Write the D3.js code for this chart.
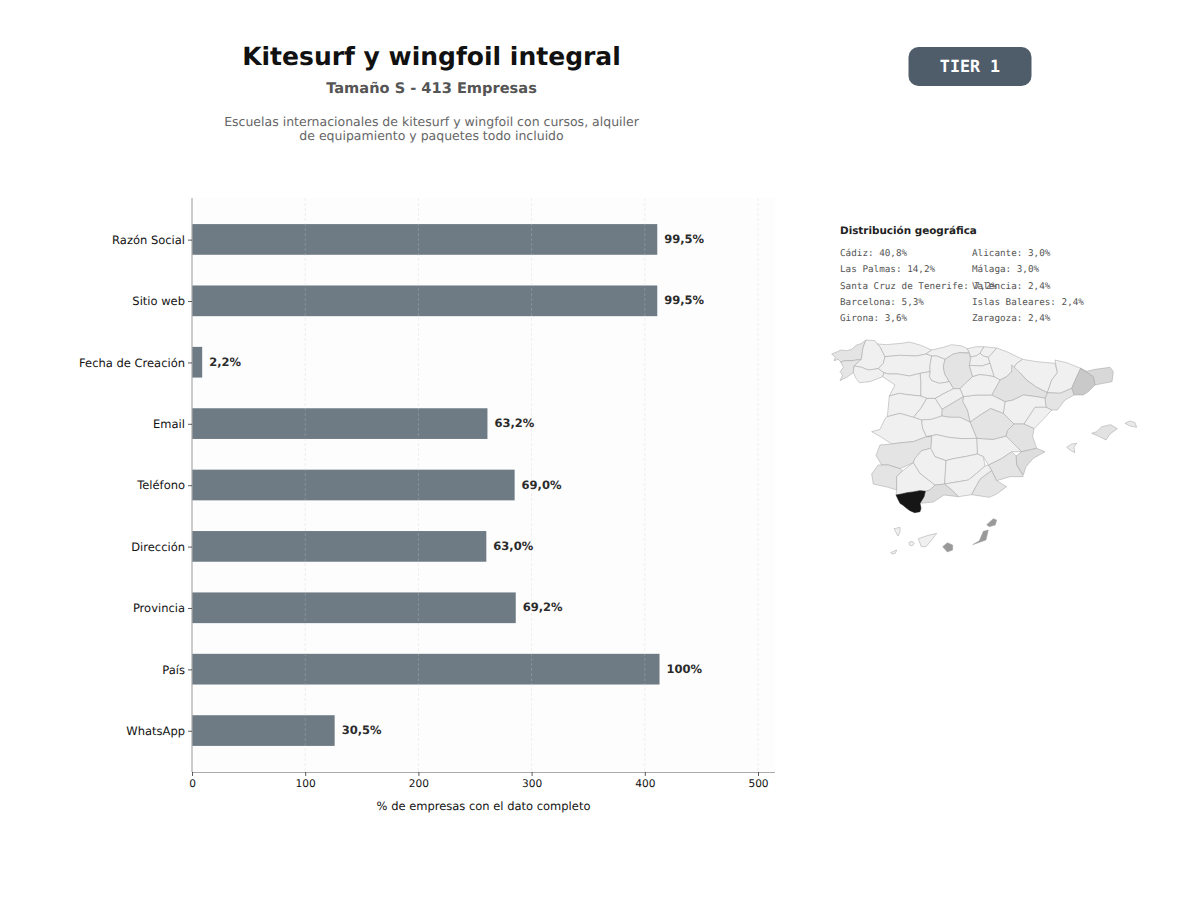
<!DOCTYPE html>
<html><head><meta charset="utf-8">
<script src="https://cdnjs.cloudflare.com/ajax/libs/d3/7.8.5/d3.min.js"></script>
<style>html,body{margin:0;padding:0;background:#fff}svg{display:block;text-rendering:geometricPrecision}text{font-family:"DejaVu Sans"}.mono{font-family:"DejaVu Sans Mono"}</style>
</head><body><div id="c"></div>
<script>
const fieldNames=["Razón Social","Sitio web","Fecha de Creación","Email","Teléfono","Dirección","Provincia","País","WhatsApp"];
const companyCounts=[411,411,9,261,285,260,286,413,126];
const percentLabels=["99,5%","99,5%","2,2%","63,2%","69,0%","63,0%","69,2%","100%","30,5%"];
const xTicks=[0,100,200,300,400,500];
const geoLeft=["Cádiz: 40,8%","Las Palmas: 14,2%","Santa Cruz de Tenerife: 7,2%","Barcelona: 5,3%","Girona: 3,6%"];
const geoRight=["Alicante: 3,0%","Málaga: 3,0%","Valencia: 2,4%","Islas Baleares: 2,4%","Zaragoza: 2,4%"];
const shareStops=[0,2.4,5.3,14.2,40.8];
const greyStops=["#f4f4f4","#e2e2e2","#c9c9c9","#999999","#161616"];
// approximate province outlines, survey units of the map sheet
const provinces=[
["A Coruña",2.2,[[35,72],[50,66],[62,60],[80,62],[95,58],[108,46],[125,40],[138,30],[132,45],[128,58],[126,75],[124,88],[95,92],[75,92],[62,96],[55,88],[42,92],[46,82]]],
["Pontevedra",2.0,[[62,96],[75,92],[95,92],[124,88],[102,108],[100,128],[80,142],[60,152],[68,135],[60,125],[70,112]]],
["Lugo",0.5,[[138,30],[165,32],[172,42],[180,50],[195,80],[190,100],[175,116],[145,120],[125,112],[102,108],[124,88],[126,75],[128,58],[132,45]]],
["Ourense",0.5,[[102,108],[125,112],[145,120],[175,116],[192,128],[188,140],[150,155],[118,158],[108,145],[100,128]]],
["Asturias",0.5,[[172,42],[200,44],[220,42],[245,40],[268,36],[300,45],[335,60],[318,72],[290,78],[240,76],[195,80],[180,50]]],
["Cantabria",0.5,[[335,60],[370,52],[395,44],[425,48],[442,56],[448,68],[420,68],[400,72],[375,88],[350,78],[335,78],[318,72]]],
["León",0.5,[[195,80],[240,76],[290,78],[318,72],[335,78],[330,105],[330,125],[300,130],[268,138],[235,132],[205,132],[192,128],[175,116],[190,100]]],
["Palencia",0.5,[[335,78],[350,78],[375,88],[370,110],[374,132],[388,155],[358,160],[335,152],[328,140],[330,125],[330,105]]],
["Burgos",2.1,[[375,88],[400,72],[420,68],[448,70],[452,88],[448,106],[458,140],[436,160],[420,176],[400,176],[388,155],[374,132],[370,110]]],
["Bizkaia",0.5,[[442,56],[470,50],[492,50],[480,70],[468,78],[452,80],[448,68]]],
["Gipuzkoa",0.5,[[492,50],[530,54],[515,72],[505,82],[490,78],[480,70]]],
["Álava",0.5,[[452,80],[468,78],[480,70],[490,78],[505,82],[510,100],[485,108],[448,106],[452,88]]],
["Navarra",0.5,[[530,54],[560,65],[608,88],[590,100],[575,125],[560,140],[540,150],[522,140],[510,100],[505,82],[515,72]]],
["La Rioja",0.5,[[448,106],[485,108],[510,100],[522,140],[500,136],[478,134],[458,140]]],
["Huesca",0.5,[[608,88],[650,95],[705,100],[712,128],[695,150],[682,188],[650,172],[620,150],[600,128],[575,125],[590,100]]],
["Lleida",0.5,[[705,90],[740,98],[782,115],[768,145],[755,175],[720,190],[682,188],[695,150],[712,128]]],
["Girona",3.6,[[782,115],[800,124],[825,118],[870,112],[880,125],[876,155],[850,160],[825,165],[820,140]]],
["Barcelona",5.3,[[782,115],[820,140],[825,165],[805,185],[790,195],[762,195],[755,175],[768,145]]],
["Tarragona",2.2,[[682,188],[720,190],[755,175],[762,195],[735,210],[712,240],[695,240],[678,232],[675,205]]],
["Zaragoza",2.4,[[575,105],[600,128],[620,150],[650,172],[682,188],[675,205],[650,200],[610,195],[580,210],[555,215],[515,195],[540,150],[560,140],[575,125]]],
["Teruel",0.5,[[555,215],[580,210],[610,195],[650,200],[675,205],[678,232],[645,232],[632,252],[612,282],[582,282],[550,250]]],
["Castellón",0.5,[[645,232],[678,232],[695,240],[670,268],[642,296],[612,282],[632,252]]],
["Valencia",2.4,[[582,282],[612,282],[642,296],[638,320],[650,355],[605,365],[580,340],[558,318],[562,302]]],
["Alicante",3.0,[[605,365],[650,355],[675,365],[640,385],[618,410],[610,435],[590,405],[588,378]]],
["Murcia",2.2,[[505,405],[545,385],[575,365],[588,378],[590,405],[610,440],[570,440],[530,452],[515,422]]],
["Albacete",0.5,[[470,325],[520,328],[558,318],[580,340],[605,365],[575,365],[545,385],[505,405],[490,380],[472,372]]],
["Cuenca",2.1,[[450,276],[480,255],[512,235],[550,250],[582,282],[562,302],[558,318],[520,328],[470,325]]],
["Guadalajara",0.5,[[430,200],[470,195],[515,195],[555,215],[550,250],[512,235],[480,255],[450,276],[442,240],[428,215]]],
["Soria",0.5,[[458,140],[478,134],[500,136],[522,140],[540,150],[515,195],[470,195],[430,200],[420,176],[436,160]]],
["Segovia",0.5,[[345,205],[372,190],[400,176],[420,176],[430,200],[405,215],[366,238]]],
["Madrid",2.1,[[366,238],[405,215],[430,200],[428,215],[442,240],[450,276],[420,262],[390,262],[365,258]]],
["Ávila",0.5,[[280,262],[302,235],[320,205],[345,205],[366,238],[365,258],[335,268],[305,270]]],
["Valladolid",0.5,[[300,130],[330,125],[328,140],[335,152],[358,160],[388,155],[400,176],[372,190],[345,205],[320,205],[302,198],[302,150]]],
["Zamora",0.5,[[192,128],[205,132],[235,132],[268,138],[300,130],[302,150],[302,198],[262,194],[238,190],[208,198],[225,165],[188,140]]],
["Salamanca",0.5,[[208,198],[238,190],[262,194],[302,198],[320,205],[302,235],[280,262],[240,250],[202,260]]],
["Cáceres",0.5,[[155,305],[180,298],[195,266],[202,260],[240,250],[280,262],[305,270],[308,295],[320,320],[280,335],[245,338],[215,342],[185,322]]],
["Toledo",0.5,[[305,270],[335,268],[365,258],[390,262],[420,262],[450,276],[470,325],[425,326],[385,322],[350,314],[320,320],[308,295]]],
["Ciudad Real",0.5,[[320,320],[350,314],[385,322],[425,326],[470,325],[472,372],[435,380],[400,386],[378,392],[345,380],[332,355],[335,320]]],
["Badajoz",2.2,[[180,345],[215,342],[245,338],[280,335],[320,320],[335,320],[332,355],[305,362],[285,385],[280,398],[240,416],[205,405],[185,405],[168,376]]],
["Huelva",2.2,[[155,432],[175,405],[205,405],[240,416],[248,422],[230,440],[230,480],[205,472],[160,462]]],
["Sevilla",0.5,[[248,422],[280,398],[300,430],[345,465],[330,480],[316,484],[300,482],[262,488],[228,495],[230,480],[230,440]]],
["Córdoba",0.5,[[285,385],[305,362],[332,355],[345,380],[378,392],[374,462],[345,465],[300,430],[280,398]]],
["Jaén",0.5,[[378,392],[400,386],[435,380],[472,372],[490,380],[495,408],[470,430],[445,450],[374,462]]],
["Granada",0.5,[[374,462],[445,450],[470,430],[495,408],[505,405],[515,422],[490,440],[480,448],[455,494],[415,500],[395,480]]],
["Almería",2.2,[[455,494],[480,448],[490,440],[515,422],[530,452],[560,470],[530,492],[508,502]]],
["Málaga",3.0,[[300,520],[312,500],[316,484],[330,480],[345,465],[374,462],[395,480],[415,500],[372,495],[340,516]]],
["Cádiz",40.8,[[228,495],[245,492],[262,488],[280,486],[300,482],[316,484],[312,500],[300,520],[303,535],[300,545],[284,548],[270,542],[260,535],[248,525],[240,520],[234,508]]],
["Mallorca",2.4,[[815,310],[830,305],[845,290],[872,284],[892,296],[870,312],[858,330],[835,318]]],
["Menorca",1.4,[[915,280],[930,273],[945,278],[950,292],[930,288]]],
["Ibiza",1.2,[[740,352],[755,342],[770,340],[762,352],[764,368],[750,360]]],
["Gran Canaria",14.2,[[368,650],[382,638],[398,645],[398,660],[382,666]]],
["Fuerteventura",14.2,[[458,644],[478,632],[490,604],[505,600],[498,630]]],
["Lanzarote",14.2,[[500,584],[520,566],[530,570],[526,585],[508,590]]],
["Tenerife",0.6,[[295,626],[325,616],[350,610],[335,630],[318,650],[304,650]]],
["La Palma",0.6,[[222,596],[240,592],[240,606],[234,618]]],
["La Gomera",0.5,[[267,637],[276,634],[283,640],[276,648],[268,645]]],
["El Hierro",0.5,[[212,668],[225,662],[230,660],[226,670],[216,672]]]
];
const W=1200,H=900;
const svg=d3.select("#c").append("svg").attr("width",W).attr("height",H);
svg.append("text").attr("x",431.5).attr("y",65).attr("text-anchor","middle").attr("font-size",25).attr("font-weight","bold").attr("fill","#111").text("Kitesurf y wingfoil integral");
svg.append("text").attr("x",431.5).attr("y",93).attr("text-anchor","middle").attr("font-size",14.6).attr("font-weight","bold").attr("fill","#555").text("Tamaño S - 413 Empresas");
svg.append("text").attr("x",431.5).attr("y",126).attr("text-anchor","middle").attr("font-size",12.5).attr("fill","#666").text("Escuelas internacionales de kitesurf y wingfoil con cursos, alquiler");
svg.append("text").attr("x",431.5).attr("y",140).attr("text-anchor","middle").attr("font-size",12.5).attr("fill","#666").text("de equipamiento y paquetes todo incluido");
svg.append("rect").attr("x",908.5).attr("y",47).attr("width",123).attr("height",39).attr("rx",10).attr("fill","#4f5d6b");
svg.append("text").attr("class","mono").attr("x",970).attr("y",71.5).attr("text-anchor","middle").attr("font-size",16.7).attr("font-weight","bold").attr("fill","#fff").text("TIER 1");

const x=d3.scaleLinear().domain([0,500]).range([192,758]);
const y=d3.scaleBand().domain(fieldNames).range([198,772]).paddingInner(0.5).paddingOuter(0.425);
const right=775;
svg.append("rect").attr("x",192).attr("y",198).attr("width",right-192).attr("height",574).attr("fill","#fdfdfd");
svg.append("g").selectAll("rect").data(fieldNames).join("rect")
 .attr("x",x(0)).attr("y",d=>y(d)).attr("height",y.bandwidth())
 .attr("width",(d,i)=>x(companyCounts[i])-x(0)).attr("fill","#6e7b85");
svg.append("g").selectAll("line").data(xTicks.slice(1)).join("line")
 .attr("x1",d=>x(d)).attr("x2",d=>x(d)).attr("y1",198).attr("y2",772)
 .attr("stroke","#c8c8c8").attr("stroke-opacity",.4).attr("stroke-dasharray","3 2").attr("stroke-width",.7);
svg.append("g").selectAll("text").data(fieldNames).join("text")
 .attr("x",(d,i)=>x(companyCounts[i])+7).attr("y",d=>y(d)+y.bandwidth()/2+3.6)
 .attr("font-size",11.5).attr("font-weight","bold").attr("fill","#2b2b2b").text((d,i)=>percentLabels[i]);
const ax=svg.append("g").attr("transform","translate(0,772)").call(d3.axisBottom(x).tickValues(xTicks).tickSize(4).tickPadding(3).tickFormat(d3.format("d")));
ax.select(".domain").attr("d","M192,0.5H"+right).attr("stroke","#aaa").attr("stroke-width",1.2);
ax.selectAll("text").attr("font-size",10.6).attr("font-family","DejaVu Sans").attr("fill","#111");
ax.selectAll("line").attr("stroke","#333").attr("stroke-width",.8);
const ay=svg.append("g").attr("transform","translate(192,0.7)").call(d3.axisLeft(y).tickSize(4).tickPadding(3));
ay.select(".domain").attr("d","M0,197.3V771.3").attr("stroke","#aaa").attr("stroke-width",1.2);
ay.selectAll("text").attr("font-size",11.5).attr("font-family","DejaVu Sans").attr("fill","#111");
ay.selectAll("line").attr("stroke","#333").attr("stroke-width",.8);
svg.append("text").attr("x",483.5).attr("y",810).attr("text-anchor","middle").attr("font-size",11.5).attr("fill","#111").text("% de empresas con el dato completo");

svg.append("text").attr("x",840).attr("y",234).attr("font-size",10.4).attr("font-weight","bold").attr("fill","#222").text("Distribución geográfica");
const geoY=d3.scalePoint().domain(d3.range(5)).range([256,321]);
[[geoLeft,840],[geoRight,972]].forEach(([list,gx])=>{
 svg.append("g").selectAll("text").data(list).join("text").attr("class","mono").attr("x",gx).attr("y",(d,i)=>geoY(i))
  .attr("font-size",9.3).attr("fill","#555").text(d=>d);
});

const tone=d3.scaleLinear().domain(shareStops).range(greyStops);
const projection=d3.geoIdentity().scale(1/3).translate([820,330]);
const path=d3.geoPath(projection);
svg.append("g").selectAll("path").data(provinces).join("path")
 .attr("d",d=>path({type:"Polygon",coordinates:[[...d[2],d[2][0]]]}))
 .attr("fill",d=>tone(d[1])).attr("stroke",d=>d[0]==="Cádiz"?"#161616":"#a0a0a0").attr("stroke-width",.5).attr("stroke-linejoin","round");
</script></body></html>
